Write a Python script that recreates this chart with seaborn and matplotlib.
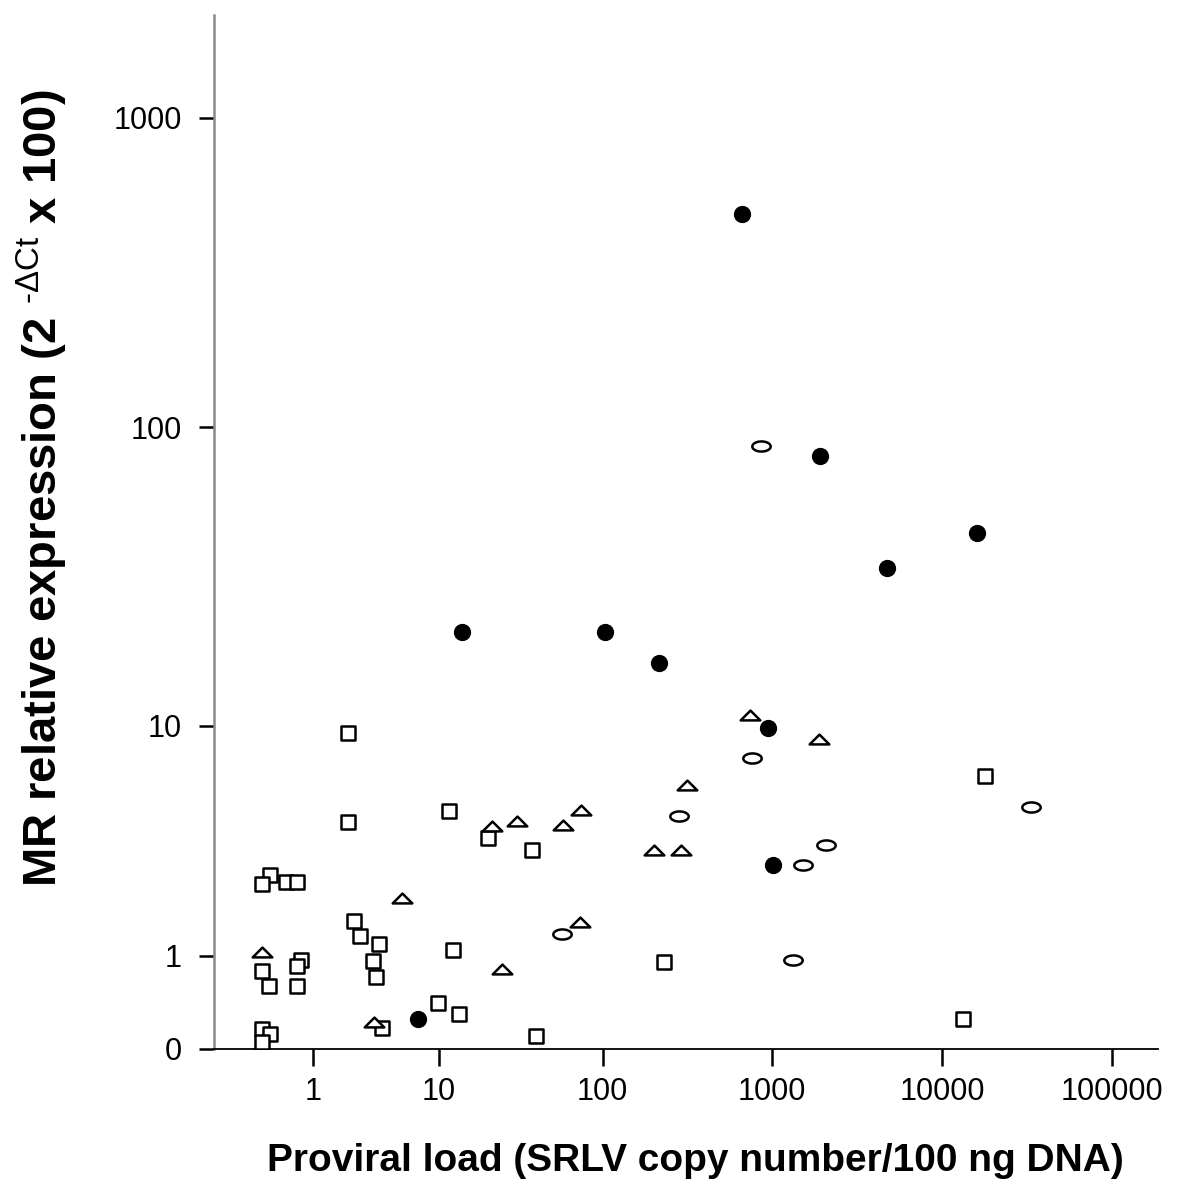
import numpy as np
import pandas as pd
import matplotlib
matplotlib.use("Agg")
import matplotlib.pyplot as plt
from matplotlib.path import Path
import seaborn as sns

# ---------------- data ----------------
# open squares
sq_x = [2.19, 2.19, 11.64, 20.35, 37.9, 0.11, 0.0, 0.39, 0.61, 2.49, 2.77, 3.86, 3.48,
        0.70, 0.60, 0.0, 3.68, 12.24, 0.10, 0.60, 9.85, 13.47, 0.0, 0.11, 0.0, 4.06,
        39.7, 231.5, 18000, 13260]
sq_y = [9.41, 4.38, 4.86, 3.80, 3.38, 2.64, 2.40, 2.45, 2.45, 1.59, 1.32, 1.18, 0.92,
        0.94, 0.85, 0.79, 0.70, 1.08, 0.60, 0.60, 0.41, 0.30, 0.16, 0.12, 0.05, 0.17,
        0.10, 0.90, 6.58, 0.25]
# open triangles
tri_x = [0.0, 5.68, 21.45, 30.5, 58.2, 74.2, 73.2, 24.7, 3.54, 202, 291, 316.6, 745, 1896]
tri_y = [1.06, 2.06, 4.24, 4.43, 4.26, 4.89, 1.57, 0.81, 0.22, 3.37, 3.37, 6.11, 10.9, 8.96]
# open ellipses
ell_x = [57.4, 760.7, 33530, 283.5, 2072, 1517, 1334, 860.6]
ell_y = [1.34, 7.65, 5.04, 4.63, 3.55, 2.93, 0.93, 87.0]
# filled circles
dot_x = [662, 1915, 16130, 4766, 13.95, 103.1, 216.3, 951, 1018, 7.31]
dot_y = [490, 80.5, 44.9, 34.4, 21.0, 21.1, 16.5, 9.83, 2.92, 0.25]

x_ticks = [1, 10, 100, 1000, 10000, 100000]
x_tick_labels = ["1", "10", "100", "1000", "10000", "100000"]
y_ticks = [0, 1, 10, 100, 1000]
y_tick_labels = ["0", "1", "10", "100", "1000"]

x_label = "Proviral load (SRLV copy number/100 ng DNA)"
y_label = "MR relative expression (2 $^{\\mathrm{\u2010\u0394Ct}}$ x 100)"

# ---------------- style ----------------
sns.set_theme(style="white")
plt.rcParams["font.family"] = ["Liberation Sans", "DejaVu Sans"]
plt.rcParams["mathtext.fontset"] = "custom"
plt.rcParams["mathtext.rm"] = "Liberation Sans"
plt.rcParams["mathtext.it"] = "Liberation Sans:italic"
plt.rcParams["mathtext.bf"] = "Liberation Sans:bold"
for key in ["text.color", "axes.labelcolor", "xtick.color", "ytick.color"]:
    plt.rcParams[key] = "black"

frames = []
for name, xs, ys in [("square", sq_x, sq_y), ("triangle", tri_x, tri_y),
                     ("ellipse", ell_x, ell_y), ("dot", dot_x, dot_y)]:
    frames.append(pd.DataFrame({"load": xs, "expr": ys, "group": name}))
df = pd.concat(frames, ignore_index=True)

tri_path = Path([(-1, -0.5), (1, -0.5), (0, 0.5), (-1, -0.5)],
                [Path.MOVETO, Path.LINETO, Path.LINETO, Path.CLOSEPOLY])
theta = np.linspace(0, 2 * np.pi, 60)
ell_verts = np.column_stack([np.cos(theta), 0.55 * np.sin(theta)])
ell_path = Path(ell_verts, closed=True)

fig = plt.figure(figsize=(12, 12.03), dpi=100)
ax = fig.add_axes([214 / 1200, 154 / 1203, (1158 - 214) / 1200, (1049 - 15) / 1203])

fwd = lambda v: np.log10(np.clip(np.asarray(v, dtype=float) + 1, 1e-12, None))
inv = lambda t: 10 ** np.asarray(t, dtype=float) - 1
ax.set_xscale("function", functions=(fwd, inv))
ax.set_yscale("function", functions=(fwd, inv))

lw = 1.8
styles = {
    "square": dict(marker="s", s=110, facecolor="white", edgecolor="black", linewidth=lw),
    "triangle": dict(marker=tri_path, s=200, facecolor="white", edgecolor="black", linewidth=lw),
    "ellipse": dict(marker=ell_path, s=175, facecolor="white", edgecolor="black", linewidth=lw),
    "dot": dict(marker="o", s=135, facecolor="black", edgecolor="black", linewidth=0.8),
}
for name in ["square", "triangle", "ellipse", "dot"]:
    sub = df[df["group"] == name]
    sns.scatterplot(data=sub, x="load", y="expr", ax=ax, legend=False, zorder=3,
                    **styles[name])

ax.set_xlim(inv(-0.282), inv(5.2706))
ax.set_ylim(0, inv(3.332))

ax.set_xticks(x_ticks)
ax.set_xticklabels(x_tick_labels)
ax.set_yticks(y_ticks)
ax.set_yticklabels(y_tick_labels)
ax.minorticks_off()

for side in ["top", "right"]:
    ax.spines[side].set_visible(False)
ax.spines["left"].set_color("#8a8a8a")
ax.spines["left"].set_linewidth(1.8)
ax.spines["bottom"].set_color("black")
ax.spines["bottom"].set_linewidth(1.3)

ax.tick_params(axis="x", which="major", direction="out", length=12, width=1.8,
               color="black", labelcolor="black", labelsize=22, pad=8, bottom=True)
ax.tick_params(axis="y", which="major", direction="out", length=11, width=1.8,
               color="black", labelcolor="black", labelsize=22, pad=12, left=True)
ax.grid(False)

ax.set_xlabel(x_label, fontsize=28, fontweight="bold", color="black")
ax.xaxis.set_label_coords(0.5095, -0.091)
ax.set_ylabel(y_label, fontsize=34, fontweight="bold", color="black")
ax.yaxis.set_label_coords(-0.153, 0.5426)

fig.savefig("out.png", dpi=100, facecolor="white")
